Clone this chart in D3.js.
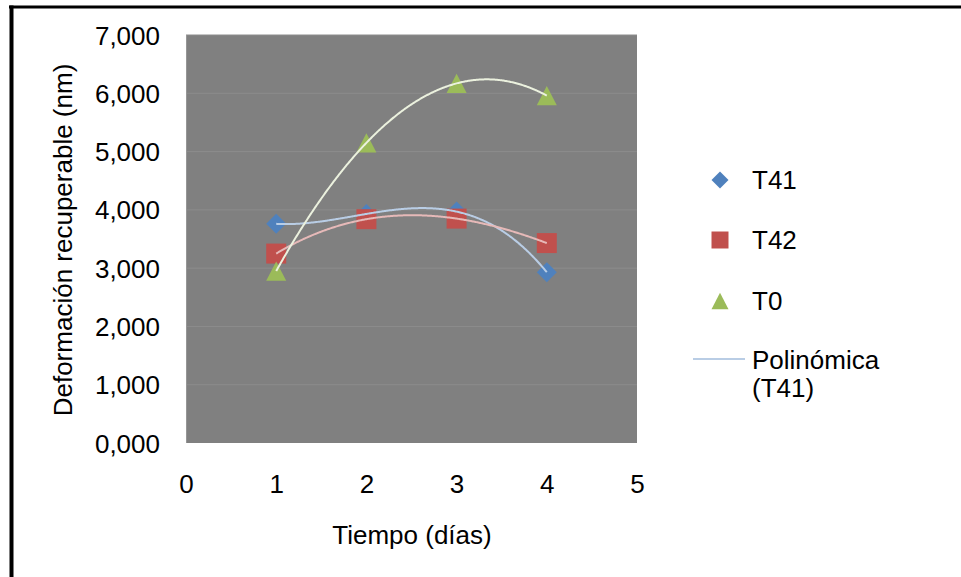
<!DOCTYPE html>
<html>
<head>
<meta charset="utf-8">
<script src="https://cdn.jsdelivr.net/npm/d3@7/dist/d3.min.js"></script>
<style>
  html, body { margin: 0; padding: 0; background: #fff; }
  svg { display: block; }
  text { font-family: "Liberation Sans", Arial, sans-serif; fill: #000; }
</style>
</head>
<body>
<svg id="chart" width="961" height="577"></svg>
<script>
// Días de medición
const dias = [1, 2, 3, 4];
// Deformación recuperable (nm) por tratamiento
const t41 = [3760, 3930, 3970, 2930];
const t42 = [3250, 3840, 3850, 3430];
const t0  = [2950, 5150, 6170, 5960];
// Ticks
const xTicks = [0, 1, 2, 3, 4, 5];
const yTicks = [0, 1000, 2000, 3000, 4000, 5000, 6000, 7000];

const svg = d3.select("#chart");
const W = 961, H = 577;
const FS = "26px";

// Marco del gráfico
svg.append("line").attr("x1", 9).attr("x2", W).attr("y1", 7).attr("y2", 7)
  .attr("stroke", "#000").attr("stroke-width", 3);
svg.append("line").attr("x1", 11.5).attr("x2", 11.5).attr("y1", 5.5).attr("y2", H)
  .attr("stroke", "#000").attr("stroke-width", 4);

const plot = { left: 186, right: 637, top: 35, bottom: 443 };
const x = d3.scaleLinear().domain([0, 5]).range([plot.left, plot.right]);
const y = d3.scaleLinear().domain([0, 7000]).range([plot.bottom, plot.top]);

// Área de trazado
svg.append("rect")
  .attr("x", plot.left).attr("y", plot.top)
  .attr("width", plot.right - plot.left).attr("height", plot.bottom - plot.top)
  .attr("fill", "#808080");

// Líneas de cuadrícula
svg.append("g").selectAll("line").data(yTicks.filter(d => d > 0)).join("line")
  .attr("x1", plot.left).attr("x2", plot.right)
  .attr("y1", d => y(d)).attr("y2", d => y(d))
  .attr("stroke", "#8c8c8c").attr("stroke-width", 1);

// Eje vertical
svg.append("line").attr("x1", plot.left + 0.5).attr("x2", plot.left + 0.5)
  .attr("y1", plot.top).attr("y2", plot.bottom)
  .attr("stroke", "#969696").attr("stroke-width", 1);

// etiquetas tipo 7,000
const yFmt = d => (d / 1000).toFixed(0) + ",000";

const yAxis = d3.axisLeft(y).tickValues(yTicks).tickFormat(yFmt).tickSize(0).tickPadding(26);
const gy = svg.append("g").attr("transform", `translate(${plot.left},0)`).call(yAxis);
gy.select(".domain").remove();
gy.selectAll("text").style("font-size", FS).attr("dy", "0.35em");

const xAxis = d3.axisBottom(x).tickValues(xTicks).tickFormat(d3.format("d")).tickSize(0).tickPadding(32);
const gx = svg.append("g").attr("transform", `translate(0,${plot.bottom})`).call(xAxis);
gx.select(".domain").remove();
gx.selectAll("text").style("font-size", FS).attr("dy", "0.71em");

// Títulos de ejes
svg.append("text").attr("x", 412).attr("y", 544).attr("text-anchor", "middle")
  .style("font-size", FS).text("Tiempo (días)");
svg.append("text").attr("transform", "translate(72,240) rotate(-90)").attr("text-anchor", "middle")
  .style("font-size", FS).text("Deformación recuperable (nm)");

// Ajuste polinómico por mínimos cuadrados
function polyFit(xs, ys, order) {
  const n = order + 1;
  const A = Array.from({ length: n }, () => new Array(n + 1).fill(0));
  for (let i = 0; i < n; i++) {
    for (let j = 0; j < n; j++) A[i][j] = d3.sum(xs, v => Math.pow(v, i + j));
    A[i][n] = d3.sum(xs, (v, k) => ys[k] * Math.pow(v, i));
  }
  for (let c = 0; c < n; c++) {
    let p = c;
    for (let r = c + 1; r < n; r++) if (Math.abs(A[r][c]) > Math.abs(A[p][c])) p = r;
    [A[c], A[p]] = [A[p], A[c]];
    for (let r = 0; r < n; r++) {
      if (r === c) continue;
      const f = A[r][c] / A[c][c];
      for (let k = c; k <= n; k++) A[r][k] -= f * A[c][k];
    }
  }
  const coef = A.map((row, i) => row[n] / row[i]);
  return v => coef.reduce((s, c, i) => s + c * Math.pow(v, i), 0);
}

// Marcadores al estilo de hoja de cálculo; "size" = ancho del marcador en px
const diamond = { draw(ctx, s) { const r = s / 2; ctx.moveTo(0, -r); ctx.lineTo(r, 0); ctx.lineTo(0, r); ctx.lineTo(-r, 0); ctx.closePath(); } };
const square  = { draw(ctx, s) { const r = s / 2; ctx.rect(-r, -r, s, s); } };
const triangle = { draw(ctx, s) { const r = s / 2, h = s * 0.48; ctx.moveTo(0, -h); ctx.lineTo(r, h); ctx.lineTo(-r, h); ctx.closePath(); } };

const series = [
  { name: "T41", values: t41, color: "#4f81bd", trend: "#b9cde5", shape: diamond },
  { name: "T42", values: t42, color: "#c0504d", trend: "#e6b9b8", shape: square },
  { name: "T0",  values: t0,  color: "#9bbb59", trend: "#ebf1de", shape: triangle }
];

const line = d3.line().x(d => x(d[0])).y(d => y(d[1]));

series.forEach(s => {
  svg.append("g").selectAll("path").data(dias.map((d, i) => [d, s.values[i]])).join("path")
    .attr("transform", d => `translate(${x(d[0])},${y(d[1])})`)
    .attr("d", d3.symbol().type(s.shape).size(20))
    .attr("fill", s.color);
});

// Líneas de tendencia (polinómica, orden 3)
series.forEach(s => {
  const f = polyFit(dias, s.values, 3);
  const pts = d3.range(0, 301).map(i => { const v = 1 + i * 3 / 300; return [v, f(v)]; });
  svg.append("path").datum(pts).attr("d", line)
    .attr("fill", "none").attr("stroke", s.trend).attr("stroke-width", 2);
});

// Leyenda
const legendY = [180, 240, 301];
series.forEach((s, i) => {
  svg.append("path").attr("transform", `translate(720,${legendY[i]})`)
    .attr("d", d3.symbol().type(s.shape).size(17)).attr("fill", s.color);
  svg.append("text").attr("x", 752).attr("y", legendY[i]).attr("dy", "0.35em")
    .style("font-size", FS).text(s.name);
});
svg.append("line").attr("x1", 693).attr("x2", 745).attr("y1", 359).attr("y2", 359)
  .attr("stroke", series[0].trend).attr("stroke-width", 2);
svg.append("text").attr("x", 752).attr("y", 360).attr("dy", "0.35em")
  .style("font-size", FS).text("Polinómica");
svg.append("text").attr("x", 752).attr("y", 388).attr("dy", "0.35em")
  .style("font-size", FS).text("(T41)");
</script>
</body>
</html>
